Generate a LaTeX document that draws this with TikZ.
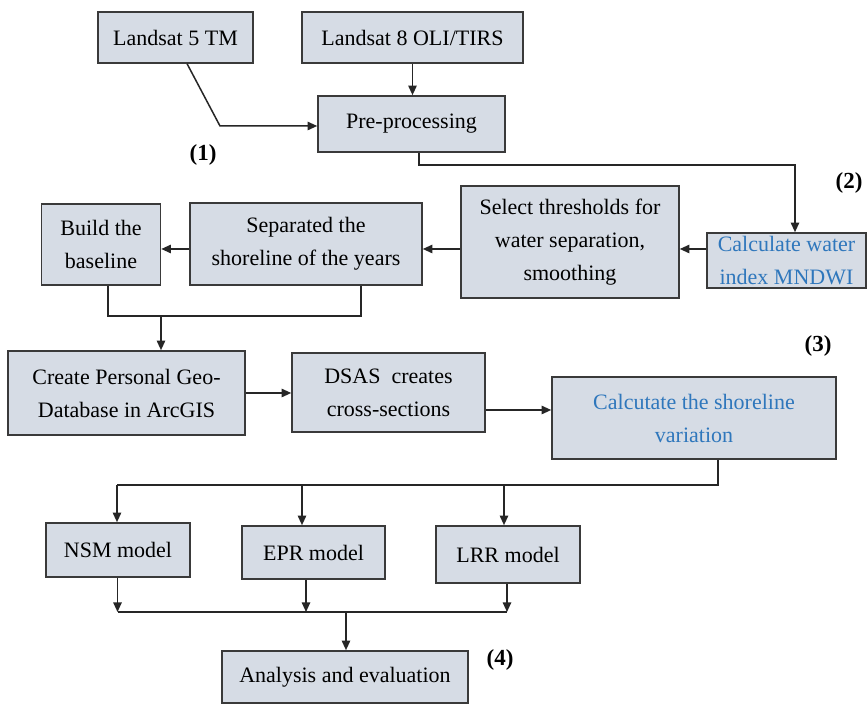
\documentclass[tikz,border=0pt]{standalone}
\usepackage{fontspec}
\setmainfont{Liberation Serif}
\usetikzlibrary{calc,arrows.meta}
\definecolor{boxfill}{HTML}{D6DCE5}
\definecolor{boxline}{HTML}{3A3A3A}
\definecolor{bluetext}{HTML}{2F77BC}
\tikzset{
  box/.style={draw=boxline, line width=0.8pt, fill=boxfill, align=center,
    inner sep=0pt, font=\fontsize{11pt}{16.5pt}\selectfont},
  bluebox/.style={box, text=bluetext},
  link/.style={draw=black!85, line width=0.75pt},
  arr/.style={link, -{Triangle[length=4.8pt,width=4.2pt]}},
  tag/.style={font=\fontsize{11.5pt}{14pt}\selectfont\bfseries, inner sep=0pt},
}
\begin{document}
\begin{tikzpicture}[x=0.5pt,y=-0.5pt]
\useasboundingbox[fill=white] (0,0) rectangle (868,704);

% --- data sources and pre-processing
\node[box, minimum width=155*0.5pt, minimum height=51*0.5pt] (l5) at (175.5,37.5) {Landsat 5 TM};
\node[box, minimum width=221*0.5pt, minimum height=51*0.5pt] (l8) at (412.5,37.5) {Landsat 8 OLI/TIRS};
\node[box, minimum width=187*0.5pt, minimum height=56*0.5pt] (pre) at (411.5,124) {Pre-processing};

% --- water index and shoreline extraction
\node[bluebox, minimum width=159*0.5pt, minimum height=55*0.5pt] (calc) at (786.5,260.5) {Calculate water\\index MNDWI};
\node[box, minimum width=218*0.5pt, minimum height=112*0.5pt] (sel) at (570,242) {Select thresholds for\\water separation,\\smoothing};
\node[box, minimum width=232*0.5pt, minimum height=82*0.5pt] (sep) at (306,244) {Separated the\\shoreline of the years};
\node[box, minimum width=119*0.5pt, minimum height=81*0.5pt] (build) at (101,244.5) {Build the\\baseline};

% --- DSAS processing
\node[box, minimum width=237*0.5pt, minimum height=84*0.5pt] (create) at (126.5,393) {Create Personal Geo-\\Database in ArcGIS};
\node[box, minimum width=193*0.5pt, minimum height=79*0.5pt] (dsas) at (388.5,392.5) {DSAS\ \ creates\\cross-sections};
\node[bluebox, minimum width=284*0.5pt, minimum height=82*0.5pt] (shore) at (694,418) {Calcutate the shoreline\\variation};

% --- rate models and evaluation
\node[box, minimum width=144*0.5pt, minimum height=54*0.5pt] (nsm) at (118,550) {NSM model};
\node[box, minimum width=143*0.5pt, minimum height=53*0.5pt] (epr) at (313.5,552.5) {EPR model};
\node[box, minimum width=144*0.5pt, minimum height=57*0.5pt] (lrr) at (508,554.5) {LRR model};
\node[box, minimum width=246*0.5pt, minimum height=52*0.5pt] (ana) at (345,677) {Analysis and evaluation};

% --- stage numbers
\node[tag] (t1) at (203,155) {(1)};
\node[tag] (t2) at (849,183) {(2)};
\node[tag] (t3) at (818,346) {(3)};
\node[tag] (t4) at (500,660) {(4)};

% --- helper coordinates for routed connectors
\coordinate (k1) at (220,126);
\coordinate (r2) at (0,249);
\coordinate (r3) at (0,316);
\coordinate (j1) at (161,316);
\coordinate (r4) at (0,410);
\coordinate (r5) at (0,485);
\coordinate (r6) at (0,612);
\coordinate (j2) at (346,612);

% stage 1
\draw[arr] ($(l5.south west)!0.574!(l5.south east)$) -- (k1) -- (k1 -| pre.west);
\draw[arr] (l8.south) -- (l8.south |- pre.north);
\coordinate (p1) at ($(pre.south)+(7.5,0)$);
\draw[arr] (p1) -- ++(0,12) -| ($(calc.north)+(8.5,0)$);

% stage 2
\draw[arr] (calc.west |- r2) -- (sel.east |- r2);
\draw[arr] (sel.west |- r2) -- (sep.east |- r2);
\draw[arr] (sep.west |- r2) -- (build.east |- r2);
\coordinate (b1) at ($(build.south)+(7,0)$);
\coordinate (s1) at ($(sep.south)+(55,0)$);
\draw[link] (b1) -- (b1 |- r3) -- (s1 |- r3) -- (s1);
\draw[arr] (j1) -- (j1 |- create.north);

% stage 3
\draw[arr] (create.east) -- (dsas.west |- create.east);
\draw[arr] (dsas.east |- r4) -- (shore.west |- r4);
\coordinate (v1) at ($(shore.south)+(24,0)$);
\coordinate (n1) at ($(nsm.north)+(-1,0)$);
\coordinate (e1) at ($(epr.north)+(-11.5,0)$);
\coordinate (q1) at ($(lrr.north)+(-4,0)$);
\draw[link] (v1) -- (v1 |- r5) -- (n1 |- r5);
\draw[arr] (n1 |- r5) -- (n1);
\draw[arr] (e1 |- r5) -- (e1);
\draw[arr] (q1 |- r5) -- (q1);

% stage 4
\coordinate (n2) at ($(nsm.south)+(-0.5,0)$);
\coordinate (e2) at ($(epr.south)+(-7.5,0)$);
\coordinate (q2) at ($(lrr.south)+(-1,0)$);
\draw[arr] (n2) -- (n2 |- r6);
\draw[arr] (e2) -- (e2 |- r6);
\draw[arr] (q2) -- (q2 |- r6);
\draw[link] (n2 |- r6) -- (q2 |- r6);
\draw[arr] (j2) -- (j2 |- ana.north);
\end{tikzpicture}
\end{document}
